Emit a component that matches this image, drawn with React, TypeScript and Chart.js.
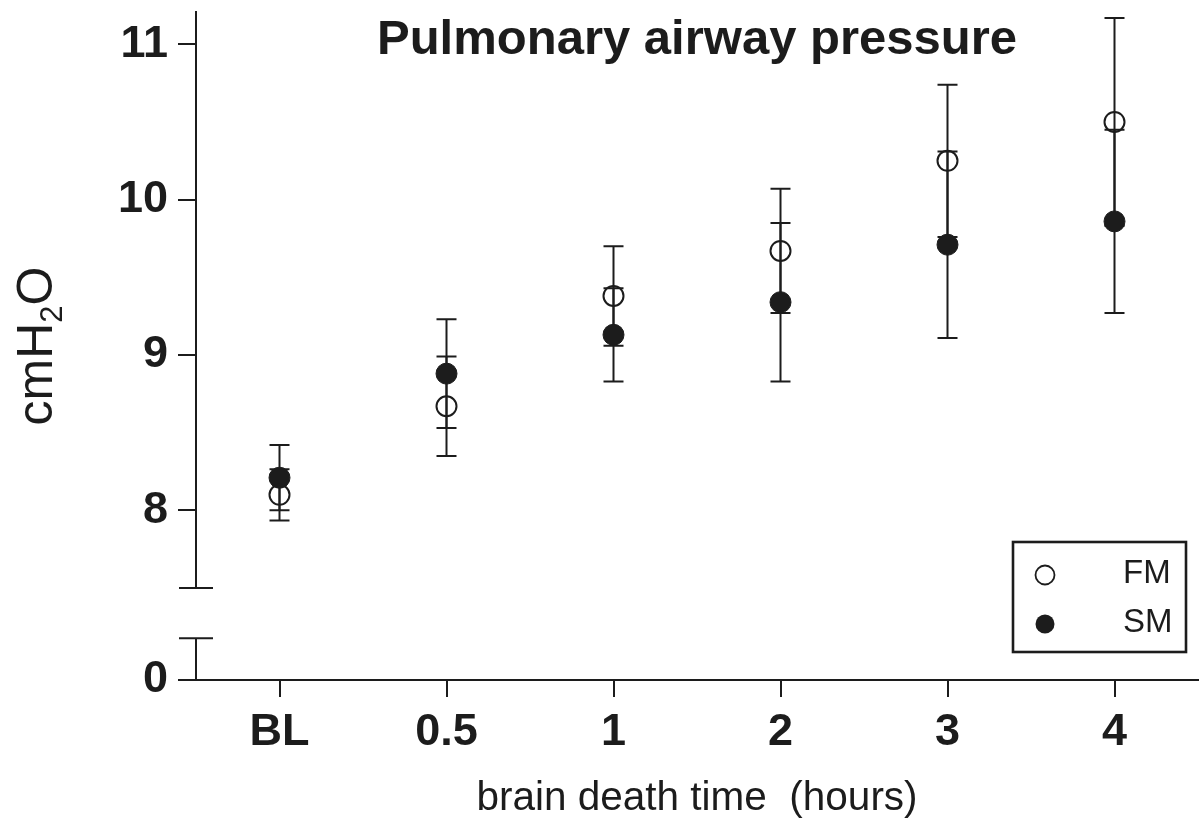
import React, { useEffect, useRef } from 'react';
import { Chart, registerables } from 'chart.js';

Chart.register(...registerables);

// ---- data ----
const categories = ['BL', '0.5', '1', '2', '3', '4'];
const seriesNames = ['FM', 'SM'];
const fmMean = [8.1, 8.67, 9.38, 9.67, 10.25, 10.5];
const fmErr = [0.165, 0.32, 0.32, 0.4, 0.49, 0.67];
const smMean = [8.21, 8.88, 9.13, 9.34, 9.71, 9.86];
const smErr = [0.21, 0.35, 0.3, 0.51, 0.6, 0.59];
const yTicksMain = [8, 9, 10, 11];
const yTicksLow = [0];
const chartTitle = 'Pulmonary airway pressure';
const xTitle = 'brain death time  (hours)';

const INK = '#1c1c1c';
const FONT = "'Liberation Sans', Arial, Helvetica, sans-serif";

const errorBarPlugin = {
  id: 'errorBars',
  beforeDatasetsDraw(chart: any) {
    const { ctx } = chart;
    const xs = chart.scales.x;
    const ys = chart.scales.y;
    ctx.save();
    ctx.strokeStyle = INK;
    ctx.lineWidth = 2;
    chart.data.datasets.forEach((ds: any) => {
      const errs: number[] = ds.errors || [];
      ds.data.forEach((v: number, i: number) => {
        const e = errs[i];
        if (e == null) return;
        const px = xs.getPixelForValue(i);
        const top = ys.getPixelForValue(v + e);
        const bot = ys.getPixelForValue(v - e);
        ctx.beginPath();
        ctx.moveTo(px, top);
        ctx.lineTo(px, bot);
        ctx.moveTo(px - 10, top);
        ctx.lineTo(px + 10, top);
        ctx.moveTo(px - 10, bot);
        ctx.lineTo(px + 10, bot);
        ctx.stroke();
      });
    });
    ctx.restore();
  },
};

const axisBreakPlugin = {
  id: 'axisBreak',
  afterDraw(chart: any) {
    const { ctx } = chart;
    const yMain = chart.scales.y;
    const yLow = chart.scales.yLow;
    const ax = yMain.right;
    const gapTop = yMain.bottom;
    const gapBottom = yLow.getPixelForValue(1);
    ctx.save();
    ctx.strokeStyle = INK;
    ctx.lineWidth = 2;
    ctx.beginPath();
    ctx.moveTo(ax - 17, gapTop);
    ctx.lineTo(ax + 17, gapTop);
    ctx.moveTo(ax - 17, gapBottom);
    ctx.lineTo(ax + 17, gapBottom);
    ctx.moveTo(ax, gapBottom);
    ctx.lineTo(ax, yLow.bottom);
    ctx.stroke();
    ctx.restore();
  },
};

const yTitlePlugin = {
  id: 'yTitle',
  afterDraw(chart: any) {
    const { ctx } = chart;
    const yMain = chart.scales.y;
    const yLow = chart.scales.yLow;
    const cy = (yMain.top + yLow.bottom) / 2;
    const big = `50px ${FONT}`;
    const small = `31px ${FONT}`;
    ctx.save();
    ctx.fillStyle = INK;
    ctx.textBaseline = 'alphabetic';
    ctx.textAlign = 'left';
    ctx.font = big;
    const w1 = ctx.measureText('cmH').width;
    const w3 = ctx.measureText('O').width;
    ctx.font = small;
    const w2 = ctx.measureText('2').width;
    const total = w1 + w2 + w3;
    ctx.translate(52, cy);
    ctx.rotate(-Math.PI / 2);
    let x0 = -total / 2;
    ctx.font = big;
    ctx.fillText('cmH', x0, 0);
    x0 += w1;
    ctx.font = small;
    ctx.fillText('2', x0, 10);
    x0 += w2;
    ctx.font = big;
    ctx.fillText('O', x0, 0);
    ctx.restore();
  },
};

const legendPlugin = {
  id: 'boxLegend',
  afterDraw(chart: any) {
    const { ctx, chartArea } = chart;
    const right = chartArea.right - 12;
    const bottom = chartArea.bottom - 28;
    const w = 173;
    const h = 110;
    const left = right - w;
    const top = bottom - h;
    ctx.save();
    ctx.strokeStyle = INK;
    ctx.lineWidth = 2.6;
    ctx.strokeRect(left, top, w, h);
    const rows = [top + 31, top + 80];
    chart.data.datasets.forEach((ds: any, i: number) => {
      const cy = rows[i];
      ctx.beginPath();
      ctx.arc(left + 32, cy + 2, 9.5, 0, Math.PI * 2);
      if (ds.filled) {
        ctx.fillStyle = INK;
        ctx.fill();
      } else {
        ctx.lineWidth = 1.8;
        ctx.stroke();
      }
      ctx.fillStyle = INK;
      ctx.font = `33px ${FONT}`;
      ctx.textBaseline = 'middle';
      ctx.textAlign = 'left';
      ctx.fillText(ds.label, left + 110, cy + 1);
    });
    ctx.restore();
  },
};

const fitY = (s: any) => {
  s.width = 196;
  s.paddingTop = 0;
  s.paddingBottom = 0;
};

export default function App() {
  const ref = useRef<HTMLCanvasElement | null>(null);

  useEffect(() => {
    if (!ref.current) return;
    const chart = new Chart(ref.current, {
      type: 'line',
      data: {
        labels: categories,
        datasets: [
          {
            label: seriesNames[0],
            data: fmMean,
            errors: fmErr,
            filled: false,
            showLine: false,
            yAxisID: 'y',
            pointStyle: 'circle',
            pointRadius: 10,
            pointHoverRadius: 10,
            pointBorderWidth: 2,
            pointBackgroundColor: 'rgba(255,255,255,0)',
            pointBorderColor: INK,
            borderColor: INK,
            backgroundColor: 'rgba(255,255,255,0)',
            clip: false,
          } as any,
          {
            label: seriesNames[1],
            data: smMean,
            errors: smErr,
            filled: true,
            showLine: false,
            yAxisID: 'y',
            pointStyle: 'circle',
            pointRadius: 10.5,
            pointHoverRadius: 10.5,
            pointBorderWidth: 1,
            pointBackgroundColor: INK,
            pointBorderColor: INK,
            borderColor: INK,
            backgroundColor: INK,
            clip: false,
          } as any,
        ],
      },
      options: {
        animation: false,
        responsive: false,
        maintainAspectRatio: false,
        devicePixelRatio: 1,
        events: [],
        layout: { autoPadding: false, padding: { top: 12, right: 6, bottom: 0, left: 0 } },
        plugins: {
          legend: { display: false },
          tooltip: { enabled: false },
          title: {
            display: true,
            text: chartTitle,
            fullSize: false,
            align: 'center',
            color: INK,
            font: { family: FONT, size: 49, weight: 'bold', lineHeight: 1 },
            padding: { top: 4, bottom: -53 },
          },
        },
        scales: {
          x: {
            type: 'category',
            position: 'bottom',
            offset: true,
            afterFit: (s: any) => {
              s.height = 138;
              s.paddingLeft = 0;
              s.paddingRight = 0;
            },
            border: { display: true, color: INK, width: 2 },
            grid: {
              display: true,
              drawOnChartArea: false,
              drawTicks: true,
              tickLength: 17,
              color: INK,
              lineWidth: 2,
              offset: false,
            },
            ticks: {
              color: INK,
              padding: 9,
              font: { family: FONT, size: 45, weight: 'bold' },
              maxRotation: 0,
              autoSkip: false,
            },
            title: {
              display: true,
              text: xTitle,
              color: INK,
              font: { family: FONT, size: 40.5 },
              padding: { top: 0, bottom: -5 },
            },
          },
          yLow: {
            type: 'linear',
            position: 'left',
            stack: 'v',
            stackWeight: 92,
            min: 0,
            max: 2.2,
            afterFit: fitY,
            afterBuildTicks: (s: any) => {
              s.ticks = yTicksLow.map((v) => ({ value: v }));
            },
            border: { display: false },
            grid: {
              display: true,
              drawOnChartArea: false,
              drawTicks: true,
              tickLength: 18,
              color: INK,
              lineWidth: 2,
            },
            ticks: {
              color: INK,
              padding: 10,
              font: { family: FONT, size: 45, weight: 'bold' },
            },
          },
          y: {
            type: 'linear',
            position: 'left',
            stack: 'v',
            stackWeight: 576,
            min: 7.5,
            max: 11.208,
            afterFit: fitY,
            afterBuildTicks: (s: any) => {
              s.ticks = yTicksMain.map((v) => ({ value: v }));
            },
            border: { display: true, color: INK, width: 2 },
            grid: {
              display: true,
              drawOnChartArea: false,
              drawTicks: true,
              tickLength: 18,
              color: INK,
              lineWidth: 2,
            },
            ticks: {
              color: INK,
              padding: 10,
              font: { family: FONT, size: 45, weight: 'bold' },
            },
          },
        },
      } as any,
      plugins: [errorBarPlugin, axisBreakPlugin, yTitlePlugin, legendPlugin],
    });
    return () => chart.destroy();
  }, []);

  return (
    <div style={{ position: 'absolute', left: 0, top: 0, width: 1204, height: 818, background: '#fff' }}>
      <canvas ref={ref} width={1204} height={818} style={{ display: 'block', width: 1204, height: 818 }} />
    </div>
  );
}
